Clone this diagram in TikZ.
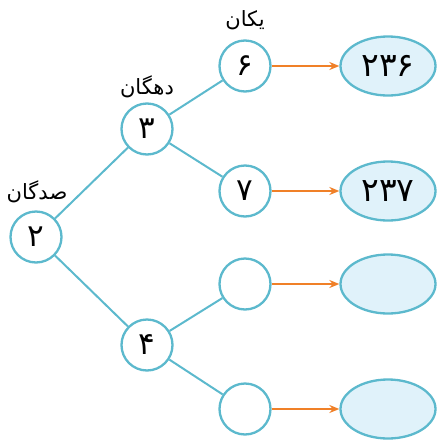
\documentclass[tikz,border=0pt]{standalone}
\usepackage{fontspec}
\usepackage{xcolor}
\usetikzlibrary{arrows.meta,shapes.geometric}
\TeXXeTstate=1
\newfontfamily\farsifont[Script=Arabic]{DejaVu Sans}
\definecolor{treeteal}{RGB}{92,185,205}
\definecolor{resultfill}{RGB}{224,242,250}
\definecolor{arroworange}{RGB}{240,128,40}

\begin{document}
\begin{tikzpicture}[x=1pt, y=-1pt, >={Stealth[length=10pt,width=8pt]},
  digit/.style={circle, draw=treeteal, line width=2.3pt, fill=white,
    minimum size=51pt, inner sep=0pt, font=\farsifont\fontsize{31}{31}\selectfont},
  result/.style={ellipse, draw=treeteal, line width=2.3pt, fill=resultfill,
    minimum width=95pt, minimum height=59pt, inner sep=0pt,
    font=\farsifont\fontsize{33}{33}\selectfont},
  place/.style={font=\farsifont\fontsize{21}{21}\selectfont, inner sep=0pt},
  branch/.style={draw=treeteal, line width=2pt},
  link/.style={->, draw=arroworange, line width=2pt}]
\useasboundingbox (0,0) rectangle (437,440);

% tree
\node[digit] (h) at (36,237) {۲};
\node[digit] (t1) at (147,129) {۳};
\node[digit] (t2) at (147,345) {۴};
\node[digit] (o1) at (245,66) {۶};
\node[digit] (o2) at (245,191) {۷};
\node[digit] (o3) at (245,284) {};
\node[digit] (o4) at (245,409) {};

\draw[branch] (h) -- (t1);
\draw[branch] (h) -- (t2);
\draw[branch] (t1) -- (o1);
\draw[branch] (t1) -- (o2);
\draw[branch] (t2) -- (o3);
\draw[branch] (t2) -- (o4);

% place names
\node[place] (lh) at (37,192) {\beginR صدگان\endR};
\node[place] (lt) at (147,87) {\beginR دهگان\endR};
\node[place] (lo) at (245,20) {\beginR یکان\endR};

% results
\node[result] (r1) at (388,66) {۲۳۶};
\node[result] (r2) at (388,191) {۲۳۷};
\node[result] (r3) at (388,284) {};
\node[result] (r4) at (388,409) {};

\foreach \i in {1,...,4}
  \draw[link] (o\i) -- (r\i);
\end{tikzpicture}
\end{document}
